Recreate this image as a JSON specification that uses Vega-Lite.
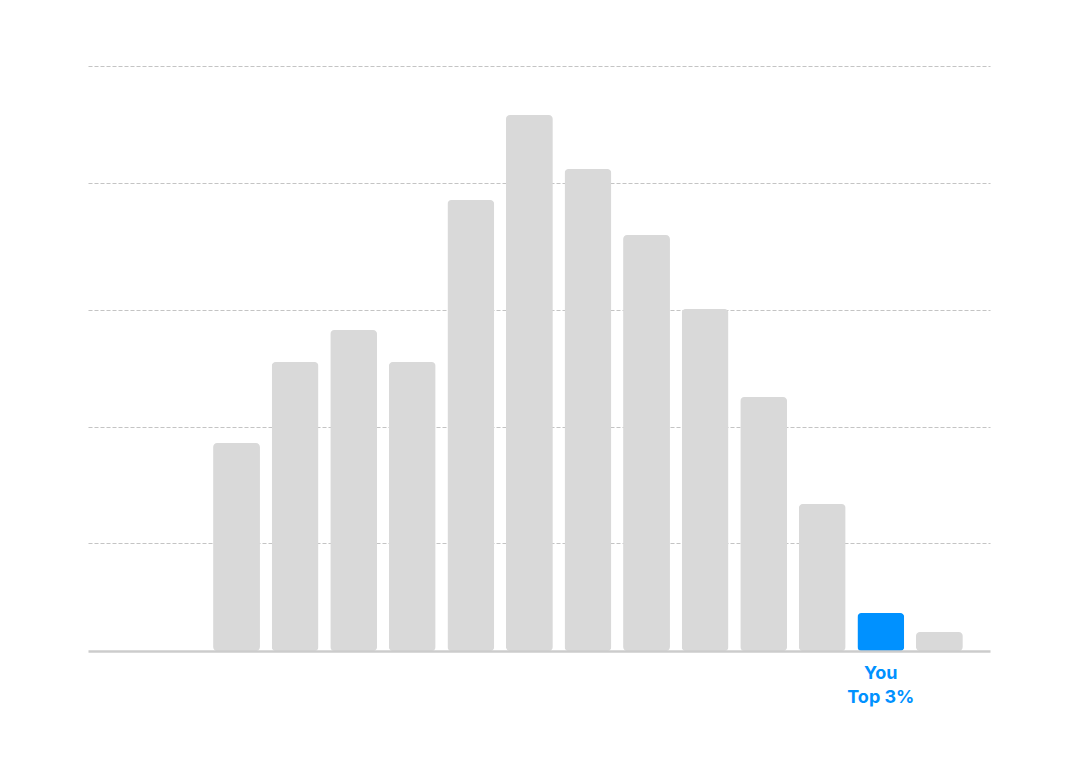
{
  "$schema": "https://vega.github.io/schema/vega-lite/v6.json",
  "autosize": "none",
  "width": 902,
  "height": 600,
  "padding": {"left": 88, "top": 51, "right": 93, "bottom": 119},
  "background": "white",
  "config": {"view": {"stroke": null}},
  "data": {
    "values": [
      {"bin": "1", "share": 208, "you": false, "label": ""},
      {"bin": "2", "share": 289, "you": false, "label": ""},
      {"bin": "3", "share": 321, "you": false, "label": ""},
      {"bin": "4", "share": 289, "you": false, "label": ""},
      {"bin": "5", "share": 451, "you": false, "label": ""},
      {"bin": "6", "share": 536, "you": false, "label": ""},
      {"bin": "7", "share": 482, "you": false, "label": ""},
      {"bin": "8", "share": 416, "you": false, "label": ""},
      {"bin": "9", "share": 342, "you": false, "label": ""},
      {"bin": "10", "share": 254, "you": false, "label": ""},
      {"bin": "11", "share": 147, "you": false, "label": ""},
      {"bin": "12", "share": 38, "you": true, "label": "You\nTop 3%"},
      {"bin": "13", "share": 19, "you": false, "label": ""}
    ]
  },
  "encoding": {
    "x": {
      "field": "bin",
      "type": "ordinal",
      "sort": null,
      "scale": {
        "domain": ["0", "1", "2", "3", "4", "5", "6", "7", "8", "9", "10", "11", "12", "13"],
        "paddingInner": 0.2,
        "paddingOuter": 0.8,
        "align": 0.71
      },
      "axis": {
        "title": null,
        "labels": false,
        "ticks": false,
        "domainColor": "#cccccc",
        "domainWidth": 2.5,
        "zindex": 1
      }
    }
  },
  "layer": [
    {
      "mark": {"type": "bar", "cornerRadius": 4},
      "encoding": {
        "y": {
          "field": "share",
          "type": "quantitative",
          "scale": {"domain": [0, 600], "nice": false},
          "axis": {
            "title": null,
            "labels": false,
            "ticks": false,
            "domain": false,
            "values": [108, 224, 341.5, 468, 585],
            "gridColor": "#c4c4c4",
            "gridDash": [4, 2],
            "gridWidth": 1.2
          }
        },
        "color": {
          "condition": {"test": "datum.you", "value": "#0091FF"},
          "value": "#D9D9D9"
        }
      }
    },
    {
      "transform": [{"filter": "datum.label != ''"}],
      "mark": {
        "type": "text",
        "baseline": "top",
        "align": "center",
        "dy": 14,
        "lineBreak": "\n",
        "lineHeight": 24,
        "font": "Inter",
        "fontSize": 18,
        "fontWeight": "bold",
        "color": "#0091FF"
      },
      "encoding": {
        "y": {"datum": 0, "type": "quantitative"},
        "text": {"field": "label"}
      }
    }
  ]
}
